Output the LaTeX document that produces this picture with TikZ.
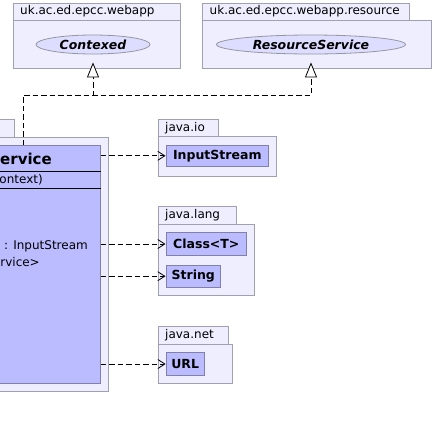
\documentclass[tikz,border=0pt]{standalone}
\usepackage{fontspec}
\setmainfont{DejaVu Sans}
\usetikzlibrary{arrows.meta,shapes.geometric}
\definecolor{pkgfill}{RGB}{238,238,255}
\definecolor{pkgline}{RGB}{160,160,176}
\definecolor{clsfill}{RGB}{187,187,255}
\definecolor{clsline}{RGB}{128,128,168}
\definecolor{ellfill}{RGB}{221,221,255}
\definecolor{ellline}{RGB}{150,150,160}
\tikzset{
  pkg/.style={draw=pkgline, fill=pkgfill, line width=0.9pt},
  pkglabel/.style={anchor=west, inner sep=0pt, font=\fontsize{12}{14}\selectfont},
  cls/.style={draw=clsline, fill=clsfill, line width=0.9pt, inner sep=0pt, font=\bfseries\fontsize{12.5}{15}\selectfont},
  iface/.style={ellipse, draw=ellline, fill=ellfill, line width=0.8pt, inner sep=0pt, font=\bfseries\itshape\fontsize{12.5}{15}\selectfont},
  member/.style={anchor=east, inner sep=0pt, font=\fontsize{12}{14}\selectfont},
  dep/.style={draw=black, line width=0.8pt, dash pattern=on 5.5pt off 3pt, -{Straight Barb[length=7pt,width=9pt]}},
  realize/.style={draw=black, line width=0.8pt, dash pattern=on 5.5pt off 3pt, -{Triangle[open,fill=white,length=15pt,width=12pt]}, shorten >=8pt},
}
\begin{document}
\begin{tikzpicture}[x=1pt,y=-1pt]
\useasboundingbox (0,0) rectangle (434,429);
\clip (0,0) rectangle (434,429);
\fill[white] (0,0) rectangle (434,429);

% package uk.ac.ed.epcc.webapp
\path[pkg] (13,3) rectangle (180,20);
\path[pkg] (13,20) rectangle (180,68.5);
\node[pkglabel] (l1) at (20,11.5) {uk.ac.ed.epcc.webapp};
\node[iface, minimum width=114pt, minimum height=19pt] (ctx) at (93,44.5) {Contexed};

% package uk.ac.ed.epcc.webapp.resource
\path[pkg] (202.5,3) rectangle (409,20);
\path[pkg] (202.5,20) rectangle (431.5,68.5);
\node[pkglabel] (l2) at (209.5,11.5) {uk.ac.ed.epcc.webapp.resource};
\node[iface, minimum width=189pt, minimum height=19pt] (rs) at (311,44.5) {ResourceService};

% left package (cut)
\path[pkg] (-10,119) rectangle (14,137);
\path[pkg] (-10,137) rectangle (108,391);

% Service class
\node[cls, minimum width=110pt, minimum height=238pt, anchor=north west] (svc) at (-10,145) {};
\draw[black, line width=0.8pt] (-10,171.7) -- (svc.east |- 0,171.7);
\draw[black, line width=0.8pt] (-10,188) -- (svc.east |- 0,188);
\node[member, font=\bfseries\fontsize{15}{18}\selectfont] (sname) at (52,158.5) {ervice};
\node[member] (m1) at (43,180) {ontext)};
\node[member] (m2) at (88,246) {: InputStream};
\node[member] (m3) at (40,262) {rvice>};

% java.io
\path[pkg] (158.3,119.3) rectangle (218.3,136);
\path[pkg] (158.3,136) rectangle (276.7,176);
\node[pkglabel] (l3) at (165,127.7) {java.io};
\node[cls, minimum width=102.7pt, minimum height=21.7pt] (is) at (217.3,155.8) {InputStream};

% java.lang
\path[pkg] (158.3,206.7) rectangle (236,224);
\path[pkg] (158.3,224) rectangle (254.3,295.7);
\node[pkglabel] (l4) at (165,215.3) {java.lang};
\node[cls, minimum width=80.7pt, minimum height=23.4pt] (cl) at (206.3,244) {Class<T>};
\node[cls, minimum width=54.7pt, minimum height=22.3pt] (st) at (193.3,276.2) {String};

% java.net
\path[pkg] (158.3,326.7) rectangle (228.3,344);
\path[pkg] (158.3,344) rectangle (232.3,383.3);
\node[pkglabel] (l5) at (165,335.3) {java.net};
\node[cls, minimum width=38.3pt, minimum height=23.4pt] (url) at (185.2,364) {URL};

% realizations
\coordinate (s0) at (23,145);
\coordinate (j) at (23,95);
\draw[realize] (s0) -- (j) -| (ctx);
\draw[realize] (s0) -- (j) -| (rs);

% dependencies
\draw[dep] (svc.east |- is.west) -- (is.west);
\draw[dep] (svc.east |- cl.west) -- (cl.west);
\draw[dep] (svc.east |- st.west) -- (st.west);
\draw[dep] (svc.east |- url.west) -- (url.west);
\end{tikzpicture}
\end{document}
